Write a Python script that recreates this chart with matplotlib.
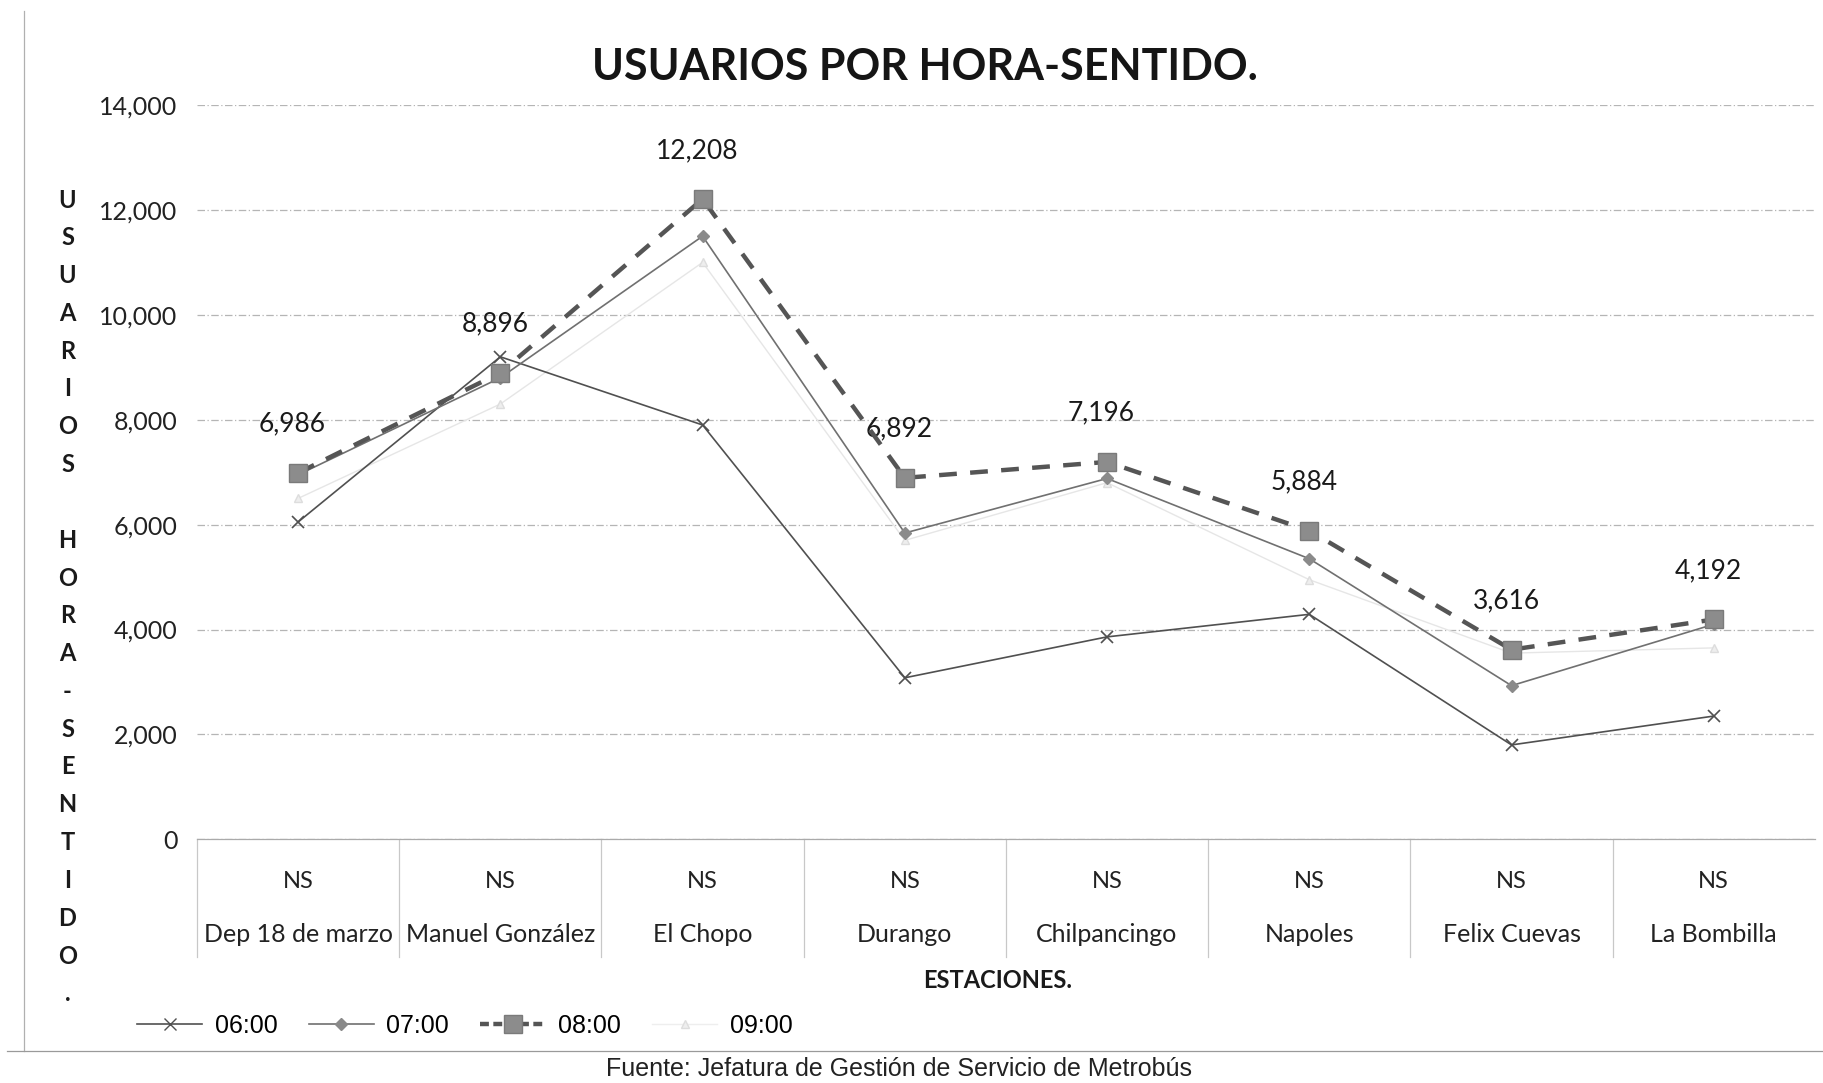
import numpy as np
import matplotlib
matplotlib.use("Agg")
import matplotlib.pyplot as plt
from matplotlib.lines import Line2D
import matplotlib.transforms as mtransforms

# values
estaciones = ["Dep 18 de marzo", "Manuel González", "El Chopo", "Durango",
              "Chilpancingo", "Napoles", "Felix Cuevas", "La Bombilla"]
sentido = ["NS"] * 8
h0600 = [6050, 9200, 7900, 3080, 3860, 4290, 1800, 2350]
h0700 = [6950, 8800, 11500, 5840, 6880, 5350, 2930, 4100]
h0800 = [6986, 8896, 12208, 6892, 7196, 5884, 3616, 4192]
h0900 = [6500, 8300, 11000, 5700, 6800, 4950, 3550, 3650]
yticks = [0, 2000, 4000, 6000, 8000, 10000, 12000, 14000]

main_font = ["Lato", "DejaVu Sans"]
arial = ["Liberation Sans", "DejaVu Sans"]

fig = plt.figure(figsize=(18.24, 10.83), dpi=100)
ax = fig.add_axes([0.108, 0.225, 0.887, 0.678])

x = np.arange(len(estaciones))

ax.plot(x, h0900, color="#e6e6e6", lw=1.0, marker="^", ms=6,
        mfc="#eeeeee", mec="#dddddd", label="09:00", zorder=2)
ax.plot(x, h0600, color="#505050", lw=1.2, marker="x", ms=9, mew=1.2,
        label="06:00", zorder=3)
ax.plot(x, h0700, color="#707070", lw=1.2, marker="D", ms=6,
        mfc="#8a8a8a", mec="#8a8a8a", label="07:00", zorder=3)
ax.plot(x, h0800, color="#555555", lw=3.2, ls=(0, (4, 3)), marker="s", ms=13,
        mfc="#8c8c8c", mec="#7a7a7a", label="08:00", zorder=4)

for xi, v in zip(x, h0800):
    ax.annotate(f"{v:,}", (xi, v), xytext=(-4, 26), textcoords="offset points",
                ha="center", va="bottom", fontsize=19, family=main_font,
                color="#1a1a1a")

ax.set_xlim(-0.5, len(estaciones) - 0.5)
ax.set_ylim(0, 14000)
ax.set_yticks(yticks)
ax.set_yticklabels([f"{t:,}" for t in yticks], fontsize=18, family=main_font,
                   color="#222222")
ax.tick_params(axis="y", length=0, pad=14)
ax.set_xticks([])
ax.grid(axis="y", color="#b5b5b5", lw=0.9, ls=(0, (6, 2, 1, 2)))
ax.set_axisbelow(True)
for s in ["top", "right", "left"]:
    ax.spines[s].set_visible(False)
ax.spines["bottom"].set_color("#aaaaaa")
ax.spines["bottom"].set_linewidth(0.9)

# two-level category axis
trans = mtransforms.blended_transform_factory(ax.transData, ax.transAxes)
for xi, (ns, name) in enumerate(zip(sentido, estaciones)):
    ax.text(xi, -0.058, ns, transform=trans, ha="center", va="center",
            fontsize=17, family=main_font, color="#222222")
    ax.text(xi, -0.13, name, transform=trans, ha="center", va="center",
            fontsize=18, family=main_font, color="#222222")
for b in np.arange(-0.5, len(estaciones) - 0.5):
    ax.plot([b, b], [0, -0.16], transform=trans, color="#c8c8c8", lw=0.9,
            clip_on=False)

fig.text(0.547, 0.095, "ESTACIONES.", ha="center", va="center", fontsize=17,
         fontweight="bold", family=main_font, color="#1a1a1a")

fig.text(0.507, 0.938, "USUARIOS POR HORA-SENTIDO.", ha="center", va="center",
         fontsize=31, fontweight="bold", family=main_font, color="#151515")

ylabel = "USUARIOS HORA-SENTIDO."
for i, ch in enumerate(ylabel):
    fig.text(0.037, 1 - (200 + i * 37.8) / 1083, ch, ha="center", va="center",
             fontsize=17, fontweight="bold", family=main_font, color="#1a1a1a")

handles = [
    Line2D([], [], color="#505050", lw=1.2, marker="x", ms=9),
    Line2D([], [], color="#707070", lw=1.2, marker="D", ms=6, mfc="#8a8a8a",
           mec="#8a8a8a"),
    Line2D([], [], color="#555555", lw=3.2, ls=(0, (2, 1)), marker="s", ms=13,
           mfc="#8c8c8c", mec="#7a7a7a"),
    Line2D([], [], color="#eeeeee", lw=1.0, marker="^", ms=6, mfc="#eeeeee",
           mec="#dddddd"),
]
fig.legend(handles, ["06:00", "07:00", "08:00", "09:00"], ncol=4,
           loc="center left", bbox_to_anchor=(0.063, 0.053), frameon=False,
           prop={"family": arial, "size": 18}, handlelength=2.6,
           columnspacing=1.25, handletextpad=0.5)

# page frame of the scanned chart
fig.add_artist(Line2D([0.013, 0.013], [0.03, 0.99], color="#b0b0b0", lw=0.9))
fig.add_artist(Line2D([0.004, 1.0], [0.03, 0.03], color="#9a9a9a", lw=0.9))

fig.text(0.332, 0.002, "Fuente: Jefatura de Gestión de Servicio de Metrobús",
         ha="left", va="bottom", fontsize=18, family=arial, color="#222222")

fig.savefig("out.png", dpi=100, facecolor="white")
